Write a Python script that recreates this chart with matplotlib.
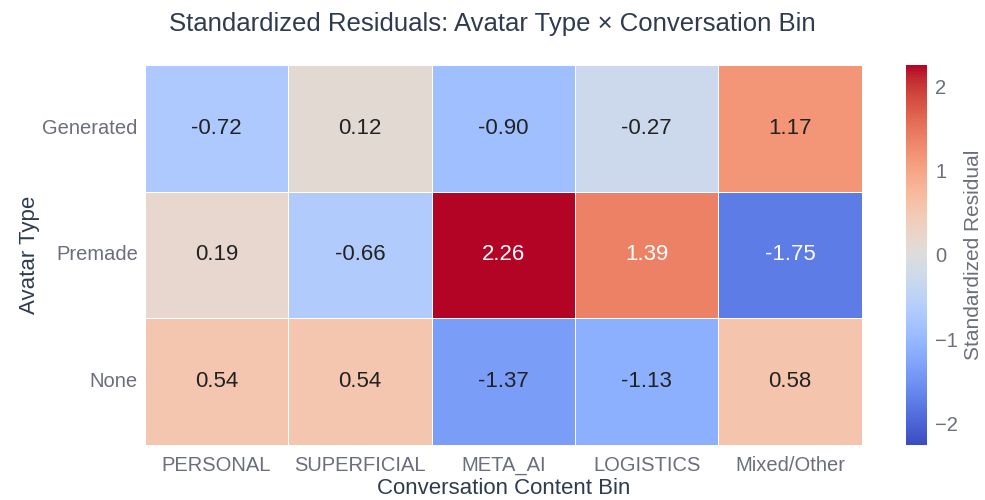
import matplotlib
matplotlib.use("Agg")
import matplotlib.pyplot as plt
import numpy as np
import seaborn as sns

avatar_types = ["Generated", "Premade", "None"]
content_bins = ["PERSONAL", "SUPERFICIAL", "META_AI", "LOGISTICS", "Mixed/Other"]
generated = [-0.72, 0.12, -0.90, -0.27, 1.17]
premade = [0.19, -0.66, 2.26, 1.39, -1.75]
none_row = [0.54, 0.54, -1.37, -1.13, 0.58]

resid = np.array([generated, premade, none_row])
vmax = np.abs(resid).max()

plt.rcParams["font.family"] = ["Liberation Sans", "DejaVu Sans"]
tick_color = "#6b6f7b"
title_color = "#2f3b4f"

fig = plt.figure(figsize=(9.85, 5.0), dpi=100)
ax = fig.add_axes([0.147, 0.11, 0.728, 0.76])
cax = fig.add_axes([0.920, 0.11, 0.021, 0.76])

sns.heatmap(resid, ax=ax, cbar_ax=cax, cmap="coolwarm", vmin=-vmax, vmax=vmax,
            annot=False, linewidths=0.6, linecolor="white",
            xticklabels=content_bins, yticklabels=avatar_types)

# annotations: white text on the strongest cells
for i in range(resid.shape[0]):
    for j in range(resid.shape[1]):
        v = resid[i, j]
        c = "white" if abs(v) > 1.38 else "#222222"
        ax.text(j + 0.5, i + 0.5, "%.2f" % v, ha="center", va="center",
                fontsize=16, color=c)

ax.tick_params(axis="x", length=0, labelsize=14.5, colors=tick_color, pad=8)
ax.tick_params(axis="y", length=0, labelsize=14.5, colors=tick_color, pad=5)
ax.set_yticklabels(avatar_types, rotation=0)
ax.set_xlabel("Conversation Content Bin", fontsize=16, color=title_color, labelpad=2)
ax.set_ylabel("Avatar Type", fontsize=16, color=title_color, labelpad=2)
fig.suptitle("Standardized Residuals: Avatar Type \u00d7 Conversation Bin",
             fontsize=18.5, color=title_color, x=0.5, y=0.975)

cb = ax.collections[0].colorbar
cb.outline.set_visible(False)
cb.set_ticks([-2, -1, 0, 1, 2])
cb.set_ticklabels(["\u22122", "\u22121", "0", "1", "2"])
cb.ax.tick_params(length=0, labelsize=14.5, colors=tick_color, pad=6)
cb.set_label("Standardized Residual", fontsize=15, color=tick_color, labelpad=4)

fig.savefig("out.png", dpi=100)
